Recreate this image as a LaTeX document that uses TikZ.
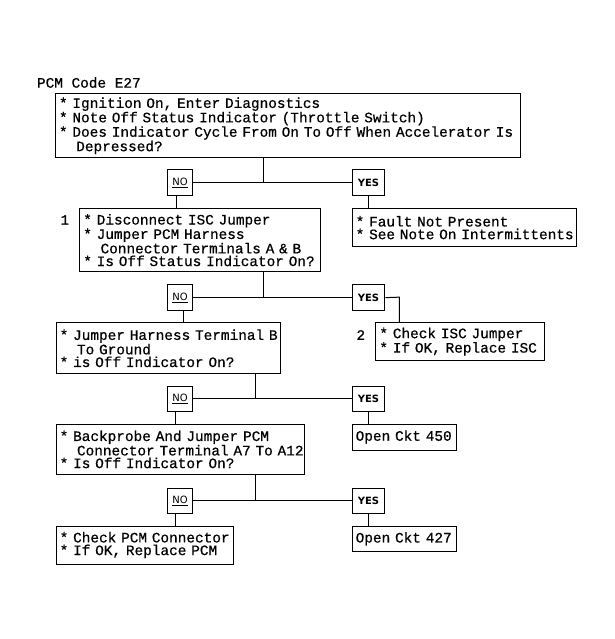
\documentclass[tikz,border=0pt]{standalone}
\usepackage{fontspec}
\usepackage{tikz}
\usetikzlibrary{calc}
\usetikzlibrary{positioning}
\newfontfamily\chartfont{Liberation Mono}[FakeBold=0.6]
\newfontfamily\labelfont{DejaVu Sans}
\newcommand{\chartText}{\chartfont\fontsize{14.4}{12.7}\selectfont}

\begin{document}
\begin{tikzpicture}[x=1pt, y=-1pt, line width=1pt,
		stepbox/.style={draw, anchor=north west, align=left, inner xsep=3.5pt, inner ysep=0pt, font=\chartText},
		answer/.style={draw, anchor=north west, inner sep=0pt, minimum height=25.7pt},
		nobox/.style={answer, minimum width=24.7pt, font=\labelfont\fontsize{10}{12}\selectfont},
		yesbox/.style={answer, minimum width=32.6pt, font=\labelfont\bfseries\fontsize{10}{12}\selectfont},
		plain/.style={anchor=west, inner sep=0pt, font=\chartText}]
		\newcommand{\indentLine}{\hphantom{**}}
		\newcommand{\bul}{{*}~}
		\newcommand{\oneLine}[1]{\mbox{#1}}
		
		\useasboundingbox (0,0) rectangle (614,639);	% page
		
		\node[plain] (title) at (36.5,82.5) {PCM Code E27};
		
		% question boxes
		\node[stepbox, text width=458pt, minimum height=64pt] (start) at (55,93.3) {\oneLine{\bul Ignition On, Enter Diagnostics}\\\oneLine{\bul Note Off Status Indicator (Throttle Switch)}\\\oneLine{\bul Does Indicator Cycle From On To Off When Accelerator Is}\\\oneLine{\indentLine Depressed?}};
		\node[stepbox, text width=233.7pt, minimum height=62.7pt] (disconnect) at (79.3,208.3) {\oneLine{\bul Disconnect ISC Jumper}\\\oneLine{\bul Jumper PCM Harness}\\\oneLine{\indentLine Connector Terminals A \& B}\\\oneLine{\bul Is Off Status Indicator On?}};
		\node[stepbox, text width=217.3pt, minimum height=51pt] (ground) at (55.7,322.3) {\oneLine{\bul Jumper Harness Terminal B}\\\oneLine{\indentLine To Ground}\\\oneLine{\bul is Off Indicator On?}};
		\node[stepbox, text width=241.3pt, minimum height=50.8pt] (backprobe) at (55.7,423.5) {\oneLine{\bul Backprobe And Jumper PCM}\\\oneLine{\indentLine Connector Terminal A7 To A12}\\\oneLine{\bul Is Off Indicator On?}};
		
		% result boxes
		\node[stepbox, text width=217pt, minimum height=37.7pt] (noFault) at (351.7,208.3) {\oneLine{\bul Fault Not Present}\\\oneLine{\bul See Note On Intermittents}};
		\node[stepbox, text width=162pt, minimum height=37.7pt] (checkISC) at (375.4,322.3) {\oneLine{\bul Check ISC Jumper}\\\oneLine{\bul If OK, Replace ISC}};
		\node[stepbox, text width=97.3pt, minimum height=26pt] (openA) at (351.7,423.5) {\oneLine{Open Ckt 450}};
		\node[stepbox, text width=169.8pt, minimum height=38pt] (checkPCM) at (55.7,525.5) {\oneLine{\bul Check PCM Connector}\\\oneLine{\bul If OK, Replace PCM}};
		\node[stepbox, text width=97.3pt, minimum height=25.5pt] (openB) at (351.7,525.5) {\oneLine{Open Ckt 427}};
		
		% step numbers
		\node[plain] (numA) at (60,220) {1};
		\node[plain] (numB) at (356,335) {2};
		
		% answers
		\node[nobox] (no1) at (167.3,169.3) {\underline{NO}};
		\node[yesbox] (yes1) at (351.7,169.3) {YES};
		\node[nobox] (no2) at (167.3,284.3) {\underline{NO}};
		\node[yesbox] (yes2) at (351.7,284.3) {YES};
		\node[nobox] (no3) at (167.3,385.5) {\underline{NO}};
		\node[yesbox] (yes3) at (351.7,385.5) {YES};
		\node[nobox] (no4) at (167.3,487.5) {\underline{NO}};
		\node[yesbox] (yes4) at (351.7,487.5) {YES};
		
		% junctions
		\coordinate (j1) at (263.3,182.15);
		\coordinate (j2) at (263.3,297.15);
		\coordinate (j3) at (255.5,398.35);
		\coordinate (j4) at (255.5,500.35);
		\coordinate (bend) at (399.3,297.15);
		
		% first question
		\draw (j1 |- start.south) -- (j1);
		\draw (no1.east) -- (yes1.west);
		\draw ([xshift=-4pt]no1.south) -- ([xshift=-4pt]no1.south |- disconnect.north);
		\draw (yes1.south) -- (yes1.south |- noFault.north);
		
		% second question
		\draw (j2 |- disconnect.south) -- (j2);
		\draw (no2.east) -- (yes2.west);
		\draw ([xshift=3.6pt]no2.south) -- ([xshift=3.6pt]no2.south |- ground.north);
		\draw (yes2.east) -- (bend) -- (bend |- checkISC.north);
		
		% third question
		\draw (j3 |- ground.south) -- (j3);
		\draw (no3.east) -- (yes3.west);
		\draw ([xshift=-4.3pt]no3.south) -- ([xshift=-4.3pt]no3.south |- backprobe.north);
		\draw (yes3.south) -- (yes3.south |- openA.north);
		
		% fourth question
		\draw (j4 |- backprobe.south) -- (j4);
		\draw (no4.east) -- (yes4.west);
		\draw ([xshift=-4.3pt]no4.south) -- ([xshift=-4.3pt]no4.south |- checkPCM.north);
		\draw (yes4.south) -- (yes4.south |- openB.north);
\end{tikzpicture}
\end{document}
